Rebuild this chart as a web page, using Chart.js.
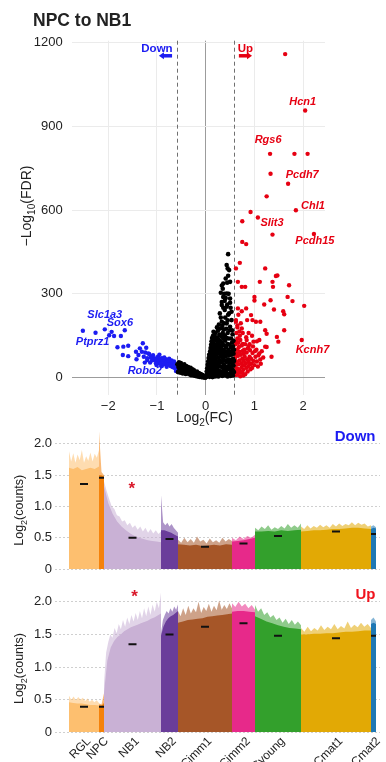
<!DOCTYPE html>
<html><head><meta charset="utf-8">
<script src="https://cdn.jsdelivr.net/npm/chart.js@4"></script>
<style>
html,body{margin:0;padding:0;background:#fff;width:386px;height:762px;overflow:hidden;position:relative;}
.box{position:absolute;left:0;width:386px;}
</style></head><body>
<div class="box" style="top:0;height:430px"><canvas id="volcano"></canvas></div>
<div class="box" style="top:420px;height:160px"><canvas id="down"></canvas></div>
<div class="box" style="top:578px;height:200px"><canvas id="up"></canvas></div>
<script>
// ---------------- DATA ----------------
const fcTicks = [-2, -1, 0, 1, 2];
const fdrTicks = [0, 300, 600, 900, 1200];
const countTicks = [0, 0.5, 1, 1.5, 2];
const fcThreshold = 0.585;

// volcano points: [log2FC, -log10FDR]
const upGenes = [[1.63,1158],[2.04,956],[1.32,801],[1.82,801],[2.09,801],[1.33,730],[1.69,694],[1.25,649],[1.85,599],[0.92,593],[1.07,573],[0.75,560],[1.37,512],[2.22,514],[0.75,486],[0.83,478],
[0.62,391],[0.70,411],[1.22,391],[1.44,364],[1.47,366],[0.66,343],[0.81,325],[0.74,325],[1.11,343],[1.37,343],[1.38,325],[1.71,331],[1.68,289],[1.78,274],[2.02,257],[1.0,289],[1.0,276],[1.2,262],[1.33,277],[1.40,244],[1.59,238],[1.61,227],[0.83,248],[0.66,248],[0.74,238],[0.85,206],[0.96,206],[1.03,200],[0.93,224],[0.62,206],[0.65,187],[0.74,176],[1.12,200],[1.22,170],[1.25,157],[1.61,170],[1.46,146],[1.49,129],[1.97,135],[1.10,135],[0.98,129],[1.22,111],[1.35,75],[0.84,135],[0.88,111],[1.04,100],[1.1,87],[0.76,121],[0.65,100],[0.78,86],[0.6,63],
[0.6,10],[0.62,25],[0.61,40],[0.63,55],[0.6,70],[0.64,85],[0.62,100],[0.61,120],[0.65,140],[0.66,15],[0.68,30],[0.67,48],[0.69,62],[0.66,78],[0.7,92],[0.68,110],[0.71,5],[0.72,20],[0.74,38],[0.73,52],[0.75,68],[0.72,82],[0.76,96],[0.74,115],[0.77,28],[0.79,45],[0.78,60],[0.8,75],[0.81,12],[0.83,35],[0.82,52],[0.85,66],[0.84,90],[0.87,40],[0.88,58],[0.9,75],[0.86,105],[0.92,30],[0.94,50],[0.93,68],[0.96,88],[0.98,60],[1.0,45],[1.02,75],[1.05,58],[1.08,80],[1.12,65],[1.15,95],[1.18,72],[1.25,110],[0.63,160],[0.7,150],[0.65,180],[0.62,200],[0.9,120],[0.95,150],[1.05,130],[0.88,160],[0.61,85],[0.64,32],[0.7,22],[0.77,8],
[0.63,130],[0.67,125],[0.71,135],[0.69,165],[0.79,100],[0.81,120],[0.83,145],[0.76,160],[0.72,195],[0.67,225],[0.91,98],[0.97,112],[1.01,95],[0.86,22],[0.9,48],[0.95,35],[1.07,40],[1.13,50],[0.64,10],[0.75,18]];

const downGenes = [[-2.52,168],[-2.26,161],[-2.07,173],[-1.93,164],[-1.98,152],[-1.66,170],[-1.74,149],[-1.88,149],[-1.81,109],[-1.69,111],[-1.59,114],[-1.70,81],[-1.59,77],[-1.29,123],[-1.35,105],[-1.22,107],[-1.43,93],[-1.31,93],[-1.18,87],[-1.38,81],[-1.11,75],[-1.27,75],[-1.20,63],[-1.42,66],[-1.04,69],[-0.97,63],[-0.94,57],[-0.87,61],[-0.80,54],[-0.73,51],[-0.66,45],[-0.63,39],[-0.59,33],[-1.14,54],[-1.01,45],[-1.25,54],[-0.90,42],[-0.80,39],[-1.07,63],
[-0.6,30],[-0.62,40],[-0.64,35],[-0.66,52],[-0.68,38],[-0.7,50],[-0.72,42],[-0.74,58],[-0.76,47],[-0.78,62],[-0.8,48],[-0.82,66],[-0.84,55],[-0.86,48],[-0.88,62],[-0.9,70],[-0.92,58],[-0.94,50],[-0.96,66],[-0.98,75],[-1.0,58],[-1.02,52],[-1.05,68],[-1.08,80],[-1.1,62],[-1.13,72],[-1.16,85],[-1.2,70],[-1.24,90],[-0.65,58],[-0.7,62],[-0.75,68],[-0.85,72],[-0.95,82],[-0.61,24],[-0.63,48]];

const nsGenes = [[-0.58,48],[-0.57,20],[-0.56,38],[-0.55,55],[-0.54,28],[-0.53,44],[-0.52,18],[-0.51,52],[-0.50,34],[-0.49,24],[-0.48,45],[-0.47,15],[-0.46,38],[-0.45,28],[-0.44,48],[-0.43,20],[-0.42,35],[-0.41,13],[-0.40,42],[-0.39,26],[-0.38,33],[-0.37,17],[-0.36,38],[-0.35,24],[-0.34,12],[-0.33,31],[-0.32,20],[-0.31,35],[-0.30,9],[-0.29,25],[-0.28,16],[-0.27,30],[-0.26,21],[-0.25,8],[-0.24,26],[-0.23,14],[-0.22,20],[-0.21,6],[-0.20,17],[-0.19,11],[-0.18,22],[-0.17,4],[-0.16,14],[-0.15,9],[-0.14,17],[-0.13,3],[-0.12,11],[-0.11,6],[-0.10,13],[-0.09,2],[-0.08,8],[-0.07,4],[-0.06,9],[-0.05,1],[-0.04,5],[-0.03,2],[-0.02,4],[-0.01,0],
[0.01,2],[0.02,10],[0.02,22],[0.03,34],[0.03,5],[0.04,46],[0.04,16],[0.05,58],[0.05,28],[0.06,70],[0.06,40],[0.06,8],[0.07,82],[0.07,52],[0.07,20],
[0.08,3],[0.08,64],[0.09,14],[0.09,94],[0.09,36],[0.10,50],[0.10,106],[0.10,76],[0.11,24],[0.11,118],[0.11,88],[0.12,6],[0.12,60],[0.12,130],[0.12,42],[0.13,100],[0.13,18],[0.13,142],[0.13,72],
[0.14,2],[0.14,54],[0.14,112],[0.15,30],[0.15,84],[0.15,150],[0.16,12],[0.16,66],[0.16,124],[0.16,164],[0.17,42],[0.17,96],[0.17,136],[0.18,20],[0.18,76],[0.18,108],[0.19,4],[0.19,56],[0.19,146],[0.19,88],
[0.20,34],[0.20,118],[0.20,160],[0.21,14],[0.21,68],[0.21,100],[0.22,46],[0.22,132],[0.22,82],[0.23,6],[0.23,26],[0.23,112],[0.23,180],[0.24,58],[0.24,144],[0.24,92],[0.25,38],[0.25,16],[0.25,124],[0.25,168],
[0.26,72],[0.26,4],[0.26,104],[0.27,50],[0.27,136],[0.27,190],[0.28,24],[0.28,86],[0.28,154],[0.29,62],[0.29,116],[0.29,230],[0.30,10],[0.30,40],[0.30,96],[0.30,176],[0.31,130],[0.31,76],[0.31,215],[0.31,304],
[0.32,22],[0.32,110],[0.32,148],[0.33,56],[0.33,88],[0.33,200],[0.33,260],[0.33,330],[0.34,6],[0.34,36],[0.34,124],[0.34,185],[0.35,70],[0.35,160],[0.35,318],[0.36,18],[0.36,100],[0.36,140],[0.36,250],[0.36,289],[0.37,48],[0.37,84],[0.37,172],
[0.38,28],[0.38,116],[0.38,195],[0.38,300],[0.39,62],[0.39,152],[0.39,242],[0.39,275],[0.40,8],[0.40,94],[0.40,132],[0.40,215],[0.41,40],[0.41,76],[0.41,285],[0.41,355],[0.42,18],[0.42,108],[0.42,175],[0.43,56],[0.43,142],[0.43,194],[0.43,254],[0.43,403],
[0.44,30],[0.44,88],[0.44,262],[0.44,340],[0.45,4],[0.45,120],[0.45,160],[0.45,205],[0.45,391],[0.46,66],[0.46,225],[0.46,365],[0.46,442],[0.47,42],[0.47,100],[0.47,300],[0.47,140],[0.48,14],[0.48,80],[0.48,385],[0.48,230],[0.49,54],[0.49,118],[0.49,170],[0.50,28],[0.50,92],[0.50,182],[0.50,268],
[0.51,6],[0.51,64],[0.51,250],[0.52,40],[0.52,110],[0.52,140],[0.53,18],[0.53,82],[0.53,206],[0.54,52],[0.54,126],[0.54,170],[0.55,30],[0.55,96],[0.55,155],[0.56,8],[0.56,68],[0.56,112],[0.57,44],[0.57,86],[0.57,132],[0.58,20],[0.58,60],[0.58,100],
[0.5,343],[0.36,337],[0.43,301],[0.5,283],[0.33,271],[0.53,236]];

// gene labels: [name, log2FC, -log10FDR]
const upLabels = [['Hcn1',1.99,988],['Rgs6',1.28,849],['Pcdh7',1.98,724],['Chl1',2.2,613],['Slit3',1.36,552],['Pcdh15',2.24,488],['Kcnh7',2.19,99]];
const downLabels = [['Slc1a3',-2.07,224],['Sox6',-1.76,195],['Ptprz1',-2.32,128],['Robo2',-1.25,24]];

// cell-level expression panels
const clusters = ['RGL','NPC','NB1','NB2','GCimm1','GCimm2','GCyoung','GCmat1','GCmat2'];
const clusterSizes = [30, 5, 57, 17, 54, 23, 46, 70, 5];
const downMeans = [1.36, 1.46, 0.50, 0.48, 0.36, 0.41, 0.53, 0.60, 0.56];
const upMeans = [0.39, 0.39, 1.35, 1.50, 1.62, 1.67, 1.48, 1.44, 1.48];
const downBody = [
  [1.62,1.6,1.63,1.58,1.6,1.62,1.6,1.64],
  [1.5,1.5,1.48],
  [1.32,1.05,0.88,0.76,0.68,0.62,0.57,0.53,0.5,0.48,0.46,0.45,0.44,0.43],
  [0.62,0.62,0.6,0.58,0.55,0.52],
  [0.4,0.39,0.38,0.39,0.37,0.38,0.39,0.38,0.4,0.39],
  [0.44,0.45,0.46,0.48,0.5],
  [0.6,0.6,0.61,0.6,0.62,0.61,0.62,0.63],
  [0.6,0.61,0.62,0.62,0.63,0.64,0.64,0.65,0.66,0.66,0.65,0.64],
  [0.64,0.66,0.65]];
const downPeak = [
  [1.88,1.72,1.85,1.7,1.83,1.74,1.9,1.7,1.8,1.73,1.86,1.72,1.84,1.78,1.9],
  [2.2,1.55,1.5],
  [1.4,1.25,1.12,1.0,0.96,0.86,0.84,0.76,0.78,0.7,0.74,0.66,0.7,0.63,0.68,0.6,0.66,0.58,0.64,0.57,0.62,0.56,0.6],
  [1.18,0.75,0.7,0.74,0.68,0.72,0.66,0.62,0.58],
  [0.47,0.42,0.5,0.43,0.48,0.42,0.52,0.44,0.47,0.41,0.49,0.43,0.46,0.42,0.5,0.44,0.48,0.45],
  [0.5,0.46,0.52,0.48,0.53,0.5,0.55],
  [0.66,0.62,0.68,0.64,0.7,0.63,0.67,0.64,0.69,0.65,0.72,0.66,0.7,0.66,0.73],
  [0.68,0.64,0.7,0.65,0.69,0.66,0.71,0.67,0.7,0.66,0.72,0.68,0.73,0.69,0.72,0.7,0.75,0.7,0.74,0.71,0.73,0.68,0.7],
  [0.68,0.7,0.67]];
const upBody = [
  [0.46,0.45,0.44,0.44,0.43,0.42,0.42,0.41],
  [0.41,0.41,0.45],
  [0.6,1.1,1.3,1.4,1.46,1.5,1.55,1.58,1.61,1.63,1.65,1.67,1.69,1.71,1.74,1.76,1.79,1.82],
  [1.48,1.62,1.7,1.75,1.78,1.8,1.83,1.86],
  [1.68,1.7,1.72,1.73,1.74,1.75,1.77,1.78,1.79,1.8,1.81,1.82],
  [1.85,1.86,1.86,1.85,1.84],
  [1.78,1.74,1.7,1.67,1.64,1.62,1.6,1.59,1.58],
  [1.5,1.5,1.51,1.51,1.52,1.52,1.53,1.54,1.54,1.55,1.56,1.56],
  [1.66,1.68,1.66]];
const upPeak = [
  [0.56,0.5,0.55,0.49,0.54,0.5,0.53,0.48,0.52,0.47,0.5,0.46,0.49,0.45],
  [0.44,0.43,0.6],
  [0.75,1.22,1.38,1.5,1.45,1.6,1.52,1.66,1.58,1.72,1.62,1.76,1.66,1.8,1.7,1.83,1.72,1.86,1.75,1.9,1.78,1.93,1.8,1.96,1.85,2.0,1.9,2.14],
  [1.52,1.72,1.8,1.86,1.82,1.9,1.85,1.93,1.88,1.96],
  [1.86,1.78,1.9,1.8,1.94,1.82,1.9,1.84,2.0,1.83,1.92,1.86,1.97,1.85,1.94,1.87,2.02,1.88,1.95,1.89,1.98,1.9],
  [1.98,1.92,2.0,1.93,1.97,1.9,1.95,1.88],
  [1.95,1.85,1.9,1.8,1.84,1.76,1.8,1.72,1.76,1.68,1.74,1.66,1.72,1.65,1.7,1.64],
  [1.6,1.54,1.62,1.55,1.6,1.56,1.64,1.57,1.62,1.58,1.66,1.58,1.63,1.59,1.7,1.6,1.65,1.61,1.68,1.62,1.66,1.6],
  [1.72,1.76,1.7]];
const downStar = ['NB1', 1.36];
const upStar = ['NB1', 2.14];

// ---------------- STYLE ----------------
const FONT = '"Liberation Sans", Arial, Helvetica, sans-serif';
const palette = ['#FDBF6F','#F5820A','#C9B1D5','#6A3D9A','#A65628','#E7298A','#33A02C','#E2A905','#1F78B4'];
const RED = '#E60012', BLUE = '#1C1CF2', TXT = '#222';
Chart.defaults.font.family = FONT;
Chart.defaults.animation = false;

function rgba(hex, a){const n=parseInt(hex.slice(1),16);return `rgba(${n>>16},${(n>>8)&255},${n&255},${a})`;}
const pts = arr => arr.map(p => ({x:p[0], y:p[1]}));

function drawRich(ctx, parts, x, y, size, rot){
  ctx.save(); ctx.translate(x,y); if(rot) ctx.rotate(rot);
  const w = parts.map(p=>{ctx.font=(p[1]?size*0.72:size)+'px '+FONT;return ctx.measureText(p[0]).width;});
  let cx = -w.reduce((a,b)=>a+b,0)/2;
  ctx.textAlign='left'; ctx.textBaseline='alphabetic'; ctx.fillStyle=TXT;
  parts.forEach((p,i)=>{ctx.font=(p[1]?size*0.72:size)+'px '+FONT;ctx.fillText(p[0],cx,p[1]?size*0.3:0);cx+=w[i];});
  ctx.restore();
}
function arrow(ctx, x1, x2, y, color){
  const dir = Math.sign(x2-x1);
  ctx.save(); ctx.strokeStyle=color; ctx.fillStyle=color; ctx.lineWidth=3.5;
  ctx.beginPath(); ctx.moveTo(x1,y); ctx.lineTo(x2-dir*4,y); ctx.stroke();
  ctx.beginPath(); ctx.moveTo(x2,y); ctx.lineTo(x2-dir*5,y-3.5); ctx.lineTo(x2-dir*5,y+3.5); ctx.closePath(); ctx.fill();
  ctx.restore();
}

// ---------------- VOLCANO ----------------
const volcanoDecor = {
  id:'volcanoDecor',
  beforeDatasetsDraw(chart){
    const {ctx, chartArea:a, scales:{x}} = chart;
    ctx.save(); ctx.strokeStyle='#707070'; ctx.lineWidth=1; ctx.setLineDash([4,3]);
    [-fcThreshold, fcThreshold].forEach(v=>{const px=Math.round(x.getPixelForValue(v))+0.5;ctx.beginPath();ctx.moveTo(px,a.top);ctx.lineTo(px,a.bottom);ctx.stroke();});
    ctx.restore();
  },
  afterDraw(chart){
    const {ctx, chartArea:a, scales:{x,y}} = chart;
    ctx.save();
    ctx.fillStyle=TXT; ctx.font='bold 17.5px '+FONT; ctx.textAlign='left'; ctx.textBaseline='alphabetic';
    ctx.fillText('NPC to NB1', 33, 26);
    ctx.restore();
    drawRich(ctx, [['Log',0],['2',1],['(FC)',0]], (a.left+a.right)/2+6, 421.5, 14, 0);
    drawRich(ctx, [['\u2212Log',0],['10',1],['(FDR)',0]], 30.5, 206, 14, -Math.PI/2);
    ctx.save();
    ctx.font='italic bold 11px '+FONT; ctx.textAlign='center'; ctx.textBaseline='middle';
    ctx.fillStyle=RED; upLabels.forEach(l=>ctx.fillText(l[0], x.getPixelForValue(l[1]), y.getPixelForValue(l[2])));
    ctx.fillStyle=BLUE; downLabels.forEach(l=>ctx.fillText(l[0], x.getPixelForValue(l[1]), y.getPixelForValue(l[2])));
    ctx.font='bold 11.5px '+FONT; ctx.textBaseline='alphabetic';
    ctx.fillStyle=BLUE; ctx.fillText('Down', x.getPixelForValue(-1.0), y.getPixelForValue(1165));
    ctx.fillStyle=RED; ctx.fillText('Up', x.getPixelForValue(0.815), y.getPixelForValue(1165));
    ctx.restore();
    const ay = y.getPixelForValue(1152);
    arrow(ctx, x.getPixelForValue(-0.69), x.getPixelForValue(-0.96), ay, BLUE);
    arrow(ctx, x.getPixelForValue(0.68), x.getPixelForValue(0.95), ay, RED);
  }
};

new Chart(document.getElementById('volcano'), {
  type:'scatter',
  data:{datasets:[
    {data:pts(nsGenes), backgroundColor:'#000', borderWidth:0, pointRadius:2.3},
    {data:pts(downGenes), backgroundColor:BLUE, borderWidth:0, pointRadius:2.2},
    {data:pts(upGenes), backgroundColor:RED, borderWidth:0, pointRadius:2.2}
  ]},
  options:{
    responsive:true, maintainAspectRatio:false, devicePixelRatio:1, animation:false,
    layout:{padding:{left:0,right:61,top:40.7,bottom:0}},
    plugins:{legend:{display:false}, tooltip:{enabled:false}},
    events:[],
    scales:{
      x:{type:'linear', min:-2.749, max:2.447,
         afterBuildTicks:s=>{s.ticks=fcTicks.map(v=>({value:v}));},
         afterFit:s=>{s.height=35;},
         grid:{color:c=>(c.tick&&c.tick.value===0)?'#9c9c9c':'#ebebeb', lineWidth:1, drawTicks:false},
         border:{display:false},
         ticks:{padding:4, color:TXT, font:{size:13}, callback:v=>v<0?'\u2212'+Math.abs(v):String(v)}},
      y:{type:'linear', min:-62, max:1206,
         afterBuildTicks:s=>{s.ticks=fdrTicks.map(v=>({value:v}));},
         afterFit:s=>{s.width=71.7;},
         grid:{color:c=>(c.tick&&c.tick.value===0)?'#9c9c9c':'#ebebeb', lineWidth:1, drawTicks:false},
         border:{display:false},
         ticks:{padding:9, color:TXT, font:{size:13}, callback:v=>String(v)}}
    }
  },
  plugins:[volcanoDecor]
});

// ---------------- EXPRESSION PANELS ----------------
function exprChart(id, body, peak, means, star, tag, tagColor, opt){
  const datasets=[]; const centers=[]; let start=0;
  clusters.forEach((name,i)=>{
    const w=clusterSizes[i];
    const line = arr => arr.map((v,k)=>({x:start+k*w/(arr.length-1), y:v}));
    datasets.push({data:line(body[i]), fill:'origin', backgroundColor:palette[i], borderWidth:0, pointRadius:0, tension:0, order:2});
    datasets.push({data:line(peak[i]), fill:'origin', backgroundColor:rgba(palette[i],0.55), borderWidth:0, pointRadius:0, tension:0, order:3});
    centers.push(start+w/2); start+=w;
  });
  datasets.push({data:centers.map((c,i)=>({x:c,y:means[i]})), showLine:false, pointStyle:'line',
    pointRadius:clusterSizes.map(w=>w<8?2.5:4), borderColor:'#111', borderWidth:2, order:0});
  const decor={
    id:'decor'+id,
    afterDraw(chart){
      const {ctx, chartArea:a, scales:{x,y}}=chart;
      ctx.save();
      ctx.font='bold 15px '+FONT; ctx.fillStyle=tagColor; ctx.textAlign='right'; ctx.textBaseline='alphabetic';
      ctx.fillText(tag, a.right-4.5, a.top+opt.tagDy);
      ctx.font='bold 17px '+FONT; ctx.fillStyle='#D9182A'; ctx.textAlign='center';
      const ci=clusters.indexOf(star[0]);
      ctx.fillText('*', x.getPixelForValue(centers[ci])+opt.starDx, y.getPixelForValue(star[1])+9.7);
      ctx.restore();
      drawRich(ctx, [['Log',0],['2',1],['(counts)',0]], 23, (a.top+a.bottom)/2+opt.titleDy, 12.5, -Math.PI/2);
    }
  };
  return new Chart(document.getElementById(id), {
    type:'line',
    data:{datasets},
    options:{
      responsive:true, maintainAspectRatio:false, devicePixelRatio:1, animation:false, events:[],
      layout:{padding:{left:0,right:6,top:opt.padTop,bottom:opt.padBottom}},
      plugins:{legend:{display:false}, tooltip:{enabled:false}},
      scales:{
        x:{type:'linear', min:-14, max:311, display:opt.showX,
           afterBuildTicks:s=>{s.ticks=centers.map(v=>({value:v}));},
           afterFit:s=>{if(opt.xHeight) s.height=opt.xHeight;},
           grid:{display:false, drawTicks:false}, border:{display:false},
           ticks:{autoSkip:false, minRotation:45, maxRotation:45, padding:2, labelOffset:5, color:TXT, font:{size:12},
                  callback:(v,i)=>clusters[i]}},
        y:{type:'linear', min:0, max:2.2,
           afterBuildTicks:s=>{s.ticks=countTicks.map(v=>({value:v}));},
           afterFit:s=>{s.width=55;},
           grid:{color:'#cfcfcf', lineWidth:1, drawTicks:false},
           border:{display:false, dash:[2,2]},
           ticks:{padding:3, color:TXT, font:{size:13}, callback:v=>v===0?'0':v.toFixed(1)}}
      }
    },
    plugins:[decor]
  });
}
exprChart('down', downBody, downPeak, downMeans, downStar, 'Down', BLUE,
  {padTop:11.3, padBottom:8.3, showX:false, tagDy:9.7, starDx:-0.8, titleDy:10});
exprChart('up', upBody, upPeak, upMeans, upStar, 'Up', '#F0141E',
  {padTop:9.5, padBottom:0, showX:true, xHeight:45.7, tagDy:10, starDx:2, titleDy:8});
</script>
</body></html>
